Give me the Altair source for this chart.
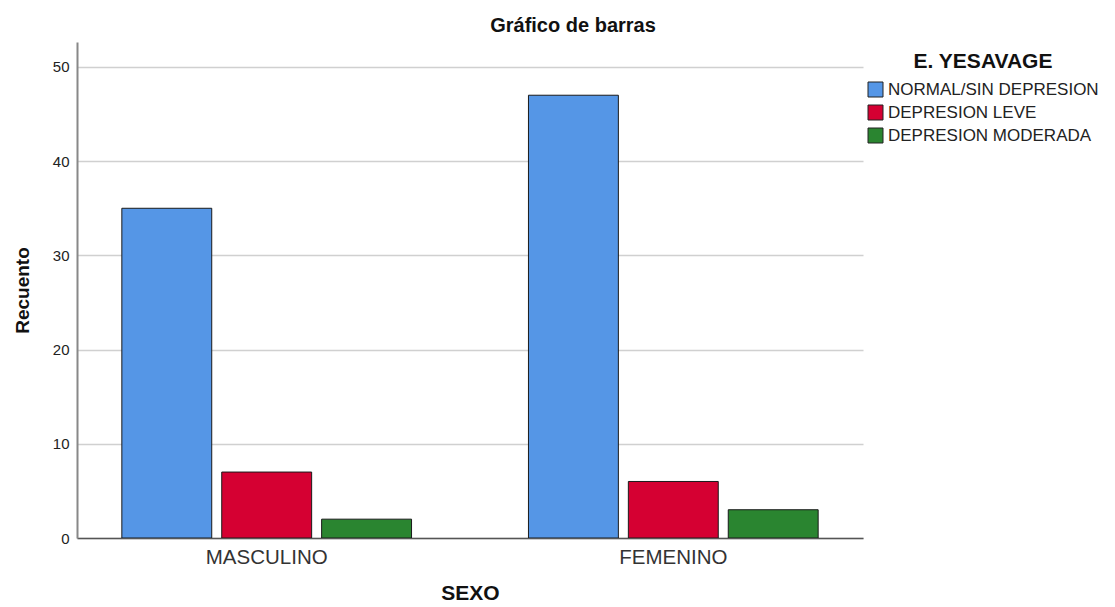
import altair as alt
import pandas as pd

sexo = ["MASCULINO", "FEMENINO"]
grupos = ["NORMAL/SIN DEPRESION", "DEPRESION LEVE", "DEPRESION MODERADA"]
valores = {
    "MASCULINO": [35, 7, 2],
    "FEMENINO": [47, 6, 3],
}
colores = ["#5596e6", "#d50032", "#2a8530"]

rows = []
for s in sexo:
    for g, v in zip(grupos, valores[s]):
        rows.append({"sexo": s, "grupo": g, "recuento": v})
df = pd.DataFrame(rows)

font = "Liberation Sans"

chart = alt.Chart(df).mark_bar(stroke="#1a1a1a", strokeWidth=1, clip=True).encode(
    x=alt.X("sexo:N", sort=sexo,
            scale=alt.Scale(paddingInner=0.263, paddingOuter=0.098),
            axis=alt.Axis(title="SEXO", labelAngle=0, labelFontSize=20.5, labelColor="#333333",
                          labelFont=font, labelPadding=9, ticks=False, domainColor="#555555",
                          domainWidth=1.5,
                          titleFont=font, titleFontSize=21, titleFontWeight="bold",
                          titleColor="#111111", titleY=61, titleBaseline="alphabetic")),
    xOffset=alt.XOffset("grupo:N", sort=grupos,
                        scale=alt.Scale(paddingInner=0.1, paddingOuter=0.05)),
    y=alt.Y("recuento:Q",
            scale=alt.Scale(domain=[0, 52.65], nice=False),
            axis=alt.Axis(title="Recuento", values=[0, 10, 20, 30, 40, 50], ticks=False,
                          labelFontSize=15, labelColor="#222222", labelFont=font, labelPadding=8,
                          gridColor="#d0d0d0", gridWidth=1.5, domainColor="#888888", domainWidth=2,
                          titleFont=font, titleFontSize=19, titleFontWeight="bold",
                          titleColor="#111111", titleX=-55, titleY=248, titleAngle=-90,
                          titleAlign="center", titleBaseline="middle")),
    color=alt.Color("grupo:N", sort=grupos,
                    scale=alt.Scale(domain=grupos, range=colores),
                    legend=alt.Legend(orient="none", legendX=790, legendY=9,
                                      title="E. YESAVAGE", titleFont=font, titleFontSize=21,
                                      titleFontWeight="bold", titleColor="#111111",
                                      titleAnchor="middle", titleAlign="center", titlePadding=9,
                                      labelFont=font, labelFontSize=17, labelColor="#222222",
                                      labelLimit=0,
                                      symbolType="square", symbolSize=225, symbolStrokeColor="#222222",
                                      symbolStrokeWidth=1, rowPadding=4, labelOffset=4)),
).properties(
    width=786,
    height=496,
    title=alt.TitleParams("Gráfico de barras", font=font, fontSize=20, fontWeight="bold",
                          color="#111111", anchor="middle", dx=103, dy=19, offset=9,
                          baseline="alphabetic"),
    autosize=alt.AutoSizeParams(type="none"),
    padding={"left": 69, "top": 34, "right": 236, "bottom": 64},
).configure_view(stroke=None)

chart.save("out.html", embed_options={"renderer": "svg", "actions": False})
